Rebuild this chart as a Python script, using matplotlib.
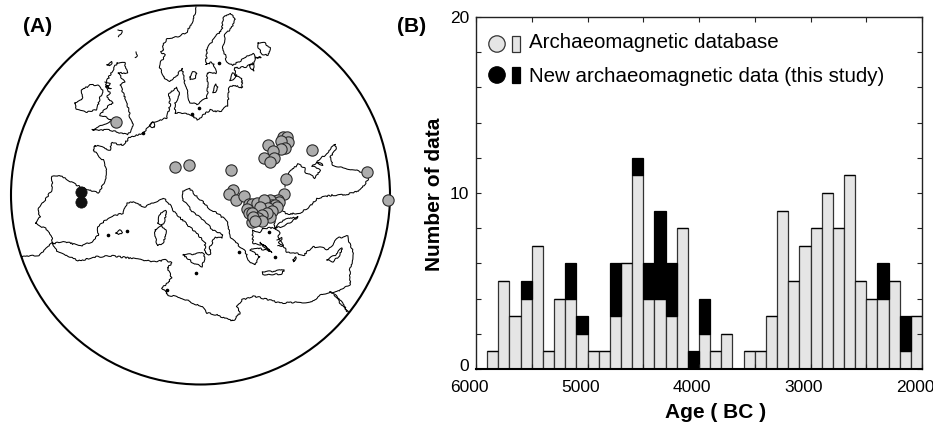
import matplotlib
matplotlib.use("Agg")
import matplotlib.pyplot as plt
from matplotlib.patches import Circle, Rectangle
from matplotlib.transforms import ScaledTranslation

plt.rcParams['font.family'] = ['Liberation Sans', 'DejaVu Sans']

# histogram, one value per 100 yr bin from 6000 BC to 2000 BC
bin_start = list(range(6000, 2000, -100))
database = [0, 1, 5, 3, 4, 7, 1, 4, 4, 2, 1, 1, 3, 6, 11, 4, 4, 3, 8, 0,
            2, 1, 2, 0, 1, 1, 3, 9, 5, 7, 8, 10, 8, 11, 5, 4, 4, 5, 1, 3]
new_data = [0, 0, 0, 0, 1, 0, 0, 0, 2, 1, 0, 0, 3, 0, 1, 2, 5, 3, 0, 1,
            2, 0, 0, 0, 0, 0, 0, 0, 0, 0, 0, 0, 0, 0, 0, 0, 2, 0, 2, 0]
x_ticks = [6000, 5000, 4000, 3000, 2000]
y_ticks = [0, 10, 20]

# map is digitised in picture pixels
sites_db = [(116, 122), (175, 167), (189, 165), (283, 137), (287, 137), (288, 142),
            (281, 141), (285, 148), (281, 149), (268, 145), (273, 151), (264, 158),
            (274, 158), (270, 162), (231, 170), (312, 150), (286, 179), (233, 190),
            (229, 194), (236, 200), (244, 196), (284, 194), (367, 172), (388, 200),
            (249, 204), (252, 204), (274, 201), (278, 200), (279, 202), (270, 200),
            (247, 209), (272, 205), (275, 205), (277, 207), (265, 204), (252, 222),
            (257, 203), (264, 200), (268, 208), (260, 207), (272, 211), (249, 213),
            (252, 213), (270, 217), (267, 213), (262, 215), (258, 218), (253, 217),
            (262, 221), (255, 221)]
sites_new = [(81, 192), (81, 202)]

north_coast = [(196, 7), (194, 18), (187, 32), (178, 37), (168, 38), (163, 45), (164, 50),
               (161, 52), (165, 55), (161, 62), (160, 68), (163, 77), (170, 81), (176, 77),
               (182, 68), (185, 83), (190, 103), (197, 104), (207, 98), (208, 85), (207, 73),
               (216, 73), (215, 67), (212, 62), (206, 65), (207, 48), (217, 35), (222, 30),
               (223, 18), (230, 13), (235, 18), (232, 27), (225, 35), (223, 48), (227, 62),
               (233, 65), (245, 58), (253, 53), (255, 58), (261, 57), (255, 58), (253, 64),
               (245, 67), (235, 68), (235, 75), (242, 78), (242, 88), (233, 85), (229, 88),
               (228, 105), (220, 112), (210, 110), (197, 120), (192, 115), (185, 113),
               (175, 113), (175, 103), (180, 95), (177, 87), (169, 93), (170, 105), (167, 118),
               (153, 122), (143, 133), (130, 137), (123, 145), (112, 143), (110, 150),
               (95, 145), (93, 150), (103, 160), (107, 173), (103, 185), (98, 193), (80, 187),
               (60, 175), (52, 177), (52, 190), (38, 210), (40, 217), (35, 223), (48, 230),
               (51, 235), (53, 244), (63, 241), (80, 246), (92, 242), (98, 235), (98, 227),
               (108, 218), (123, 213), (127, 203), (132, 202), (145, 207), (163, 198),
               (168, 202), (175, 213), (193, 230), (205, 242), (205, 253), (210, 255),
               (210, 247), (215, 237), (222, 238), (223, 235), (213, 230), (203, 220),
               (193, 212), (183, 200), (183, 191), (190, 189), (195, 195), (203, 202),
               (210, 209), (217, 213), (228, 222), (230, 237), (235, 242), (245, 251),
               (250, 263), (255, 265), (258, 258), (260, 257), (250, 250), (258, 248),
               (272, 252), (262, 245), (253, 243), (252, 230), (260, 232), (262, 228),
               (275, 228), (280, 233), (278, 238), (283, 245), (287, 252), (297, 253),
               (303, 256), (312, 247), (320, 247), (328, 250), (338, 238), (348, 236),
               (350, 245), (354, 253), (350, 270), (350, 285), (337, 292), (330, 292),
               (320, 295), (312, 302), (280, 303), (262, 298), (253, 296), (242, 300),
               (237, 307), (240, 313), (233, 321), (217, 315), (207, 313), (202, 307),
               (182, 298), (168, 295), (162, 288), (172, 278), (167, 268), (172, 263),
               (165, 260), (155, 262), (137, 259), (113, 256), (93, 257), (80, 261),
               (72, 258), (57, 252), (52, 243), (40, 255), (22, 257)]
black_sea = [(285, 187), (285, 179), (290, 172), (298, 164), (305, 168), (305, 172), (315, 178),
             (320, 170), (312, 166), (317, 163), (323, 165), (317, 162), (325, 155), (335, 144),
             (336, 150), (330, 157), (333, 165), (337, 167), (350, 169), (367, 173), (368, 180),
             (360, 190), (345, 195), (333, 195), (318, 198), (308, 208), (300, 213), (287, 214),
             (280, 208)]
marmara = [(275, 228), (283, 220), (298, 217), (290, 223), (280, 227), (275, 228)]
bosphorus = [(274, 215), (275, 228)]
nile_a = [(330, 292), (338, 297), (348, 312)]
nile_b = [(334, 295), (338, 300), (347, 312)]
ireland = [(75, 103), (82, 100), (82, 90), (90, 85), (98, 85), (103, 90), (100, 98), (97, 110),
           (85, 112), (77, 110), (75, 103)]
britain = [(117, 63), (125, 63), (127, 73), (118, 73), (125, 82), (120, 85), (127, 102),
           (130, 117), (133, 122), (132, 128), (128, 135), (110, 130), (92, 130), (103, 125),
           (112, 120), (100, 115), (107, 107), (113, 103), (107, 97), (110, 93), (105, 85),
           (110, 75), (117, 63)]
corsica = [(158, 223), (160, 213), (166, 211), (165, 220), (162, 226), (158, 223)]
sardinia = [(155, 230), (162, 226), (166, 230), (164, 242), (158, 246), (156, 242), (155, 230)]
sicily = [(183, 255), (203, 253), (205, 257), (202, 267), (192, 262), (183, 255)]
crete = [(263, 272), (275, 271), (284, 270), (282, 274), (267, 275), (263, 274), (263, 272)]
cyprus = [(327, 260), (335, 255), (342, 248), (340, 255), (333, 262), (327, 260)]
mallorca = [(116, 233), (120, 230), (122, 233), (119, 235), (116, 233)]
ladoga = [(258, 43), (265, 43), (270, 48), (268, 55), (263, 55), (258, 48), (258, 43)]
venern = [(190, 77), (193, 72), (197, 73), (195, 78), (190, 79), (190, 77)]
vettern = [(213, 92), (216, 84), (218, 87), (215, 92), (213, 92)]
peipus = [(250, 65), (253, 63), (254, 71), (251, 68), (250, 65)]
saaremaa = [(230, 80), (233, 73), (237, 75), (232, 80), (230, 80)]
ijssel = [(150, 125), (153, 122), (155, 127), (152, 128), (150, 125)]
euboea = [(260, 243), (270, 250), (266, 246), (260, 243)]
shetland = [(118, 30), (122, 31), (119, 37)]
orkney = [(136, 52), (137, 56), (135, 57)]
hebrides = [(107, 65), (112, 62), (110, 66), (107, 65)]
skye = [(105, 82), (110, 84), (106, 87), (111, 89), (107, 85)]
rhodes = [(293, 260), (296, 257), (294, 262), (293, 260)]
lesbos = [(277, 240), (282, 238), (279, 243), (283, 246), (278, 245)]
coast_lines = [north_coast, black_sea, marmara, bosphorus, nile_a, nile_b, ireland, britain,
               corsica, sardinia, sicily, crete, cyprus, mallorca, ladoga, venern, vettern,
               peipus, saaremaa, ijssel, euboea, shetland, orkney, hebrides, skye, rhodes, lesbos]
small_isles = [(219, 63), (199, 108), (192, 114), (143, 133), (127, 231), (108, 235), (196, 273),
               (269, 232), (275, 257), (239, 252), (167, 290)]

fig = plt.figure(figsize=(9.33, 4.29), dpi=100)
W, H = 933, 429

# (A) map, full figure axes so the pixels can be used directly
mp = fig.add_axes([0, 0, 1, 1])
mp.set_xlim(0, W)
mp.set_ylim(H, 0)
mp.axis('off')
for c in coast_lines:
    line, = mp.plot([p[0] for p in c], [p[1] for p in c], color='black', lw=0.75, solid_joinstyle='round')
    line.set_sketch_params(scale=0.7, length=9, randomness=12)  # rough hand drawn coast look
mp.plot([p[0] for p in small_isles], [p[1] for p in small_isles], ls='', marker='o', ms=1.6, color='black')
mp.add_patch(Circle((200.5, 195), 189.5, fill=False, ec='black', lw=1.5))
mp.scatter([p[0] for p in sites_db], [p[1] for p in sites_db], s=66, c='#ADADAD',
           edgecolors='#2b2b2b', linewidths=0.8, zorder=5)
mp.scatter([p[0] for p in sites_new], [p[1] for p in sites_new], s=66, c='#111111',
           edgecolors='#111111', linewidths=0.5, zorder=5)
mp.text(38, 27, '(A)', fontsize=15, fontweight='bold', ha='center', va='center')
mp.text(412, 27, '(B)', fontsize=15, fontweight='bold', ha='center', va='center')

# (B) histogram
ax = fig.add_axes([476 / W, 1 - 369 / H, 446 / W, 352 / H])
ax.set_xlim(6000, 2000)
ax.set_ylim(0, 20)
ax.patch.set_alpha(0)
ax.bar(bin_start, database, width=-100, align='edge', color='#E5E5E5', edgecolor='#333333', linewidth=0.9)
ax.bar(bin_start, new_data, width=-100, align='edge', bottom=database, color='black',
       edgecolor='black', linewidth=0.9)
ax.set_xticks(x_ticks)
ax.set_xticks(range(5500, 2000, -500), minor=True)
ax.set_yticks(y_ticks)
ax.set_yticks(range(2, 20, 2), minor=True)
ax.tick_params(which='both', direction='in', top=True, right=True, length=3.5, width=0.8, color='#222222')
ax.tick_params(axis='x', which='major', labelsize=12.5, pad=8)
ax.tick_params(axis='y', which='major', labelsize=12.5, pad=5)
for s in ax.spines.values():
    s.set_linewidth(1.0)
    s.set_color('#222222')
ax.spines['bottom'].set_linewidth(1.5)
ax.spines['bottom'].set_color('black')

# tick labels sit a bit left of the ticks in the original
shift = ScaledTranslation(-7 / 100, 0, fig.dpi_scale_trans)
for lab in ax.get_xticklabels():
    lab.set_transform(lab.get_transform() + shift)
# same for the 0, it sits higher than its tick
lab0 = ax.get_yticklabels()[0]
lab0.set_transform(lab0.get_transform() + ScaledTranslation(0, 4 / 100, fig.dpi_scale_trans))

mp.text(716, 413, 'Age ( BC )', fontsize=15, fontweight='bold', ha='center', va='center')
mp.text(435, 194, 'Number of data', fontsize=15, fontweight='bold', ha='center', va='center', rotation=90)

# legend by hand, same layout as the figure
mp.add_patch(Circle((497, 44), 8.2, fc='#E5E5E5', ec='#333333', lw=0.9, zorder=6))
mp.add_patch(Rectangle((512, 36), 8, 16, fc='#E5E5E5', ec='#333333', lw=0.9, zorder=6))
mp.add_patch(Circle((497, 75), 8.2, fc='black', ec='black', lw=0.9, zorder=6))
mp.add_patch(Rectangle((512, 67), 8, 16, fc='black', ec='black', lw=0.9, zorder=6))
mp.text(529, 42, 'Archaeomagnetic database', fontsize=14.8, va='center', zorder=6)
mp.text(529, 77, 'New archaeomagnetic data (this study)', fontsize=14.8, va='center', zorder=6)

fig.savefig('out.png', dpi=100)
